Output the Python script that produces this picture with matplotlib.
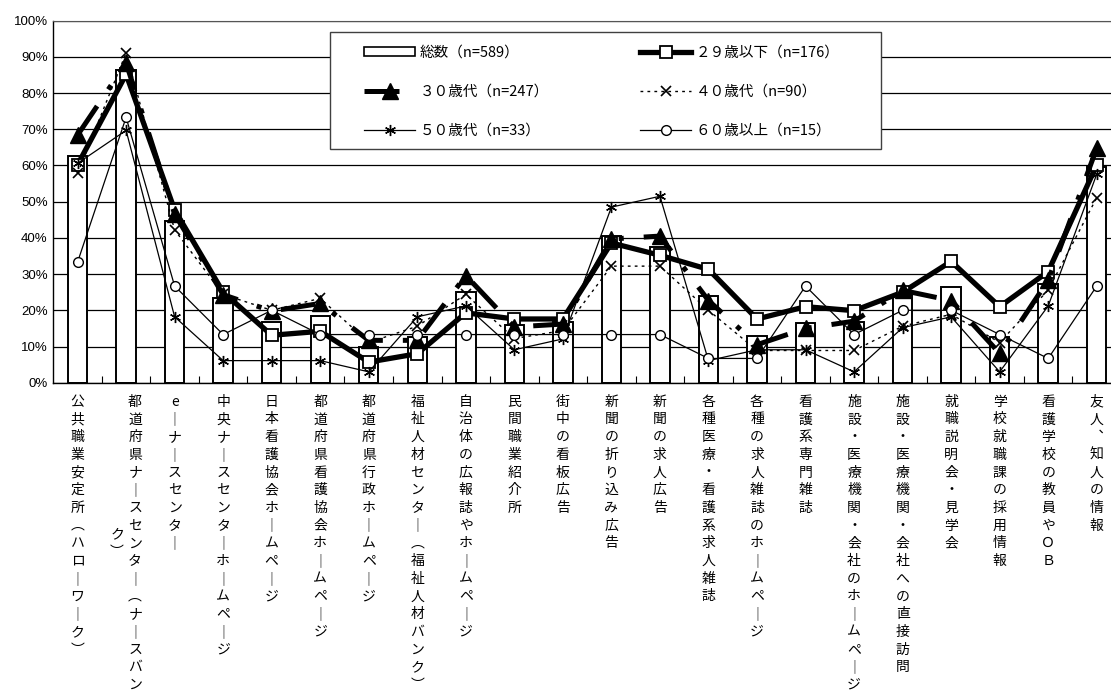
import matplotlib
matplotlib.use("Agg")
import matplotlib.pyplot as plt
from matplotlib.lines import Line2D
from matplotlib.patches import Patch, Rectangle

plt.rcParams['font.family'] = ['Noto Sans CJK JP', 'DejaVu Sans']

categories = [
    "公共職業安定所（ハローワーク）",
    "都道府県ナースセンター（ナースバンク）",
    "eーナースセンター",
    "中央ナースセンターホームページ",
    "日本看護協会ホームページ",
    "都道府県看護協会ホームページ",
    "都道府県行政ホームページ",
    "福祉人材センター（福祉人材バンク）",
    "自治体の広報誌やホームページ",
    "民間職業紹介所",
    "街中の看板広告",
    "新聞の折り込み広告",
    "新聞の求人広告",
    "各種医療・看護系求人雑誌",
    "各種の求人雑誌のホームページ",
    "看護系専門雑誌",
    "施設・医療機関・会社のホームページ",
    "施設・医療機関・会社への直接訪問",
    "就職説明会・見学会",
    "学校就職課の採用情報",
    "看護学校の教員やＯＢ",
    "友人、知人の情報",
]

# percentages per category
total = [62.6, 86.4, 44.8, 23.3, 16.8, 18.5, 9.8, 12.5, 25.0, 16.0, 16.9,
         40.6, 37.5, 24.0, 12.9, 16.6, 16.9, 24.2, 26.3, 12.7, 27.4, 59.7]
age_under29 = [60.2, 85.2, 47.7, 25.0, 13.1, 14.2, 5.7, 8.0, 19.3, 17.6, 17.6,
               38.6, 35.2, 31.3, 17.6, 21.0, 19.9, 25.0, 33.5, 21.0, 30.7, 60.2]
age_30s = [68.4, 88.3, 46.6, 24.3, 19.8, 21.9, 11.7, 11.7, 29.6, 15.4, 16.2,
           39.7, 40.5, 22.7, 10.5, 15.0, 17.0, 25.5, 22.7, 8.1, 28.3, 64.8]
age_40s = [57.8, 91.1, 42.2, 24.4, 20.0, 23.3, 11.1, 15.6, 24.4, 12.2, 14.4,
           32.2, 32.2, 20.0, 8.9, 8.9, 8.9, 15.6, 18.9, 11.1, 25.6, 51.1]
age_50s = [60.6, 69.7, 18.2, 6.1, 6.1, 6.1, 3.0, 18.2, 21.2, 9.1, 12.1,
           48.5, 51.5, 6.1, 9.1, 9.1, 3.0, 15.2, 18.2, 3.0, 21.2, 57.6]
age_over60 = [33.3, 73.3, 26.7, 13.3, 20.0, 13.3, 13.3, 13.3, 13.3, 13.3, 13.3,
              13.3, 13.3, 6.7, 6.7, 26.7, 13.3, 20.0, 20.0, 13.3, 6.7, 26.7]

series_labels = [
    "総数（n=589）",
    "２９歳以下（n=176）",
    "３０歳代（n=247）",
    "４０歳代（n=90）",
    "５０歳代（n=33）",
    "６０歳以上（n=15）",
]

W, H = 1111, 693
fig = plt.figure(figsize=(W / 100, H / 100), dpi=100)
ax = fig.add_axes([53.3 / W, (H - 382.7) / H, (1121 - 53.3) / W, 362 / H])

x = list(range(len(categories)))

ax.bar(x, total, width=0.4, color='white', edgecolor='black', linewidth=1.4, zorder=2)

style_29 = dict(color='black', lw=3.8, marker='s', ms=9, mfc='white', mec='black', mew=1.3)
style_30 = dict(color='black', lw=3.6, ls=(0, (7, 4, 1, 4)), marker='^', ms=11,
                mfc='black', mec='black')
style_40 = dict(color='black', lw=1.0, ls=(0, (2, 3)), marker='x', ms=7, mew=1.2)
style_50 = dict(color='black', lw=0.9, marker=(6, 2, 0), ms=8, mew=1.0)
style_60 = dict(color='black', lw=0.9, marker='o', ms=7, mfc='white', mec='black', mew=1.0)

ax.plot(x, age_under29, zorder=3, **style_29)
ax.plot(x, age_30s, zorder=4, **style_30)
ax.plot(x, age_40s, zorder=5, **style_40)
ax.plot(x, age_50s, zorder=6, **style_50)
ax.plot(x, age_over60, zorder=7, **style_60)

ax.set_xlim(-0.5, len(categories) - 0.5)
ax.set_ylim(0, 100)
ax.set_yticks(range(0, 101, 10))
ax.set_yticklabels([f"{v}%" for v in range(0, 101, 10)],
                   fontfamily='Liberation Sans', fontsize=9.5)
ax.yaxis.grid(True, color='black', lw=0.9)
ax.set_axisbelow(True)
ax.tick_params(axis='y', length=0, pad=4)

ax.set_xticks([])
ax.set_xticks([i + 0.5 for i in x[:-1]], minor=True)
ax.tick_params(axis='x', which='minor', direction='in', length=5, width=0.8)

ax.spines['right'].set_visible(False)
ax.spines['top'].set_color('#555555')
ax.spines['left'].set_linewidth(1.0)
ax.spines['bottom'].set_linewidth(1.0)

# vertical (tategaki) category labels, one glyph at a time,
# swapping in the vertical forms where they exist
vertical_forms = {"ー": "｜", "（": "︵", "）": "︶", "、": "︑"}
step = 17.7
per_col = 17
for i, label in enumerate(categories):
    cols = [label[j:j + per_col] for j in range(0, len(label), per_col)]
    n = len(cols)
    for c, col in enumerate(cols):
        dx = ((n - 1) / 2 - c) * 18
        dy0 = (len(cols[0]) - len(col)) / 2 * step
        for k, ch in enumerate(col):
            ax.annotate(vertical_forms.get(ch, ch), xy=(i, 0), xycoords=ax.get_xaxis_transform(),
                        xytext=(dx, -19 - dy0 - k * step), textcoords='offset pixels',
                        ha='center', va='center', fontsize=10, annotation_clip=False)

# legend box
frame = Rectangle((330 / W, (H - 149.3) / H), 550.7 / W, 117.6 / H,
                  transform=fig.transFigure, facecolor='white',
                  edgecolor='#404040', lw=1.0, zorder=3)
fig.add_artist(frame)

h_total = Patch(facecolor='white', edgecolor='black', lw=1.2)
h_29 = Line2D([], [], **style_29)
h_30 = Line2D([], [], **style_30)
h_40 = Line2D([], [], **style_40)
h_50 = Line2D([], [], **style_50)
h_60 = Line2D([], [], **style_60)

common = dict(frameon=False, loc='upper left', borderpad=0, borderaxespad=0, fontsize=10.5,
              handlelength=3.5, handleheight=0.55, handletextpad=0.3,
              labelspacing=1.7, bbox_transform=fig.transFigure)
leg1 = fig.legend([h_total, h_30, h_50], [series_labels[0], series_labels[2], series_labels[4]],
                  bbox_to_anchor=(364 / W, (H - 46) / H), **common)
leg2 = fig.legend([h_29, h_40, h_60], [series_labels[1], series_labels[3], series_labels[5]],
                  bbox_to_anchor=(640 / W, (H - 46) / H), **common)
leg1.set_zorder(5)
leg2.set_zorder(5)

fig.savefig("out.png", dpi=100)
